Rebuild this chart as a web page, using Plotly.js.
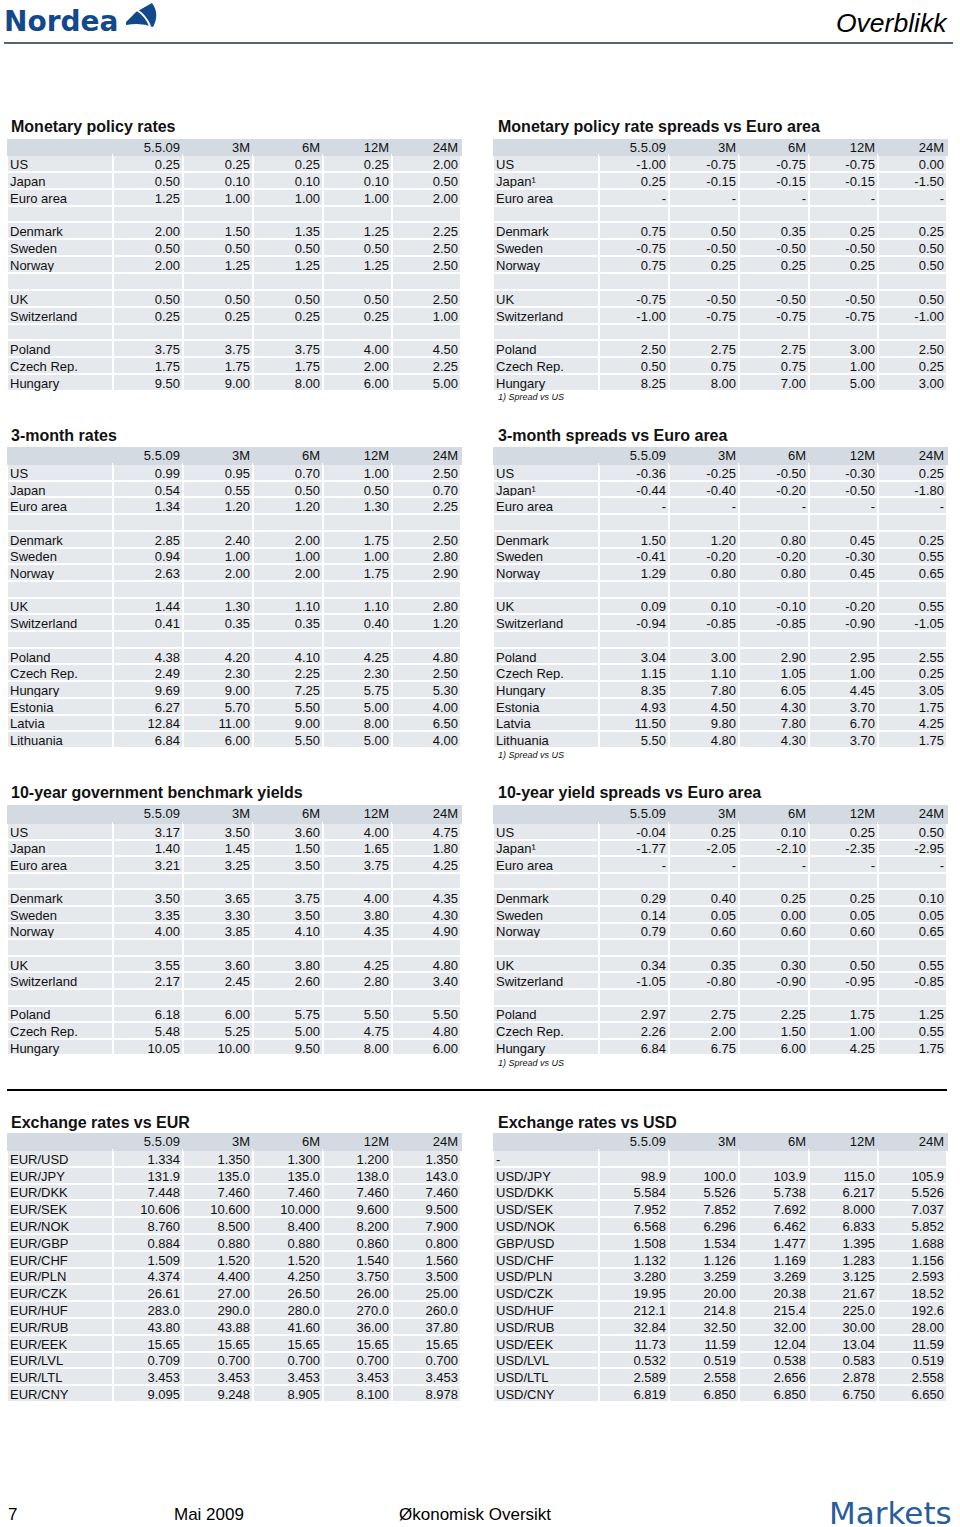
<!DOCTYPE html>
<html><head><meta charset="utf-8">
<script src="https://cdn.plot.ly/plotly-3.0.1.min.js"></script>
<style>
html,body{margin:0;padding:0;background:#fff}
/* Plotly's fixed 8px cell padding is larger than the reference's; nudge text */
.table .cell-text{transform:translate(5px,-3.9px)}
.table .cell-text-holder[transform^="translate(8,"] .cell-text{transform:translate(-5px,-3.9px)}
.table g#header .cell-text{transform:translate(5px,-4.7px)}
</style>
</head><body><div id="chart" style="width:960px;height:1527px"></div>
<script>
// ---------- DATA ----------
const columns = ["", "5.5.09", "3M", "6M", "12M", "24M"];

// Monetary policy rates
const mpRows = ["US","Japan","Euro area","","Denmark","Sweden","Norway","","UK","Switzerland","","Poland","Czech Rep.","Hungary"];
const mpNow  = [0.25,0.50,1.25,null,2.00,0.50,2.00,null,0.50,0.25,null,3.75,1.75,9.50];
const mp3M   = [0.25,0.10,1.00,null,1.50,0.50,1.25,null,0.50,0.25,null,3.75,1.75,9.00];
const mp6M   = [0.25,0.10,1.00,null,1.35,0.50,1.25,null,0.50,0.25,null,3.75,1.75,8.00];
const mp12M  = [0.25,0.10,1.00,null,1.25,0.50,1.25,null,0.50,0.25,null,4.00,2.00,6.00];
const mp24M  = [2.00,0.50,2.00,null,2.25,2.50,2.50,null,2.50,1.00,null,4.50,2.25,5.00];

// Monetary policy rate spreads vs Euro area
const mpsRows = ["US","Japan¹","Euro area","","Denmark","Sweden","Norway","","UK","Switzerland","","Poland","Czech Rep.","Hungary"];
const mpsNow  = [-1.00,0.25,"-",null,0.75,-0.75,0.75,null,-0.75,-1.00,null,2.50,0.50,8.25];
const mps3M   = [-0.75,-0.15,"-",null,0.50,-0.50,0.25,null,-0.50,-0.75,null,2.75,0.75,8.00];
const mps6M   = [-0.75,-0.15,"-",null,0.35,-0.50,0.25,null,-0.50,-0.75,null,2.75,0.75,7.00];
const mps12M  = [-0.75,-0.15,"-",null,0.25,-0.50,0.25,null,-0.50,-0.75,null,3.00,1.00,5.00];
const mps24M  = [0.00,-1.50,"-",null,0.25,0.50,0.50,null,0.50,-1.00,null,2.50,0.25,3.00];

// 3-month rates
const m3Rows = ["US","Japan","Euro area","","Denmark","Sweden","Norway","","UK","Switzerland","","Poland","Czech Rep.","Hungary","Estonia","Latvia","Lithuania"];
const m3Now  = [0.99,0.54,1.34,null,2.85,0.94,2.63,null,1.44,0.41,null,4.38,2.49,9.69,6.27,12.84,6.84];
const m33M   = [0.95,0.55,1.20,null,2.40,1.00,2.00,null,1.30,0.35,null,4.20,2.30,9.00,5.70,11.00,6.00];
const m36M   = [0.70,0.50,1.20,null,2.00,1.00,2.00,null,1.10,0.35,null,4.10,2.25,7.25,5.50,9.00,5.50];
const m312M  = [1.00,0.50,1.30,null,1.75,1.00,1.75,null,1.10,0.40,null,4.25,2.30,5.75,5.00,8.00,5.00];
const m324M  = [2.50,0.70,2.25,null,2.50,2.80,2.90,null,2.80,1.20,null,4.80,2.50,5.30,4.00,6.50,4.00];

// 3-month spreads vs Euro area
const m3sRows = ["US","Japan¹","Euro area","","Denmark","Sweden","Norway","","UK","Switzerland","","Poland","Czech Rep.","Hungary","Estonia","Latvia","Lithuania"];
const m3sNow  = [-0.36,-0.44,"-",null,1.50,-0.41,1.29,null,0.09,-0.94,null,3.04,1.15,8.35,4.93,11.50,5.50];
const m3s3M   = [-0.25,-0.40,"-",null,1.20,-0.20,0.80,null,0.10,-0.85,null,3.00,1.10,7.80,4.50,9.80,4.80];
const m3s6M   = [-0.50,-0.20,"-",null,0.80,-0.20,0.80,null,-0.10,-0.85,null,2.90,1.05,6.05,4.30,7.80,4.30];
const m3s12M  = [-0.30,-0.50,"-",null,0.45,-0.30,0.45,null,-0.20,-0.90,null,2.95,1.00,4.45,3.70,6.70,3.70];
const m3s24M  = [0.25,-1.80,"-",null,0.25,0.55,0.65,null,0.55,-1.05,null,2.55,0.25,3.05,1.75,4.25,1.75];

// 10-year government benchmark yields
const y10Rows = ["US","Japan","Euro area","","Denmark","Sweden","Norway","","UK","Switzerland","","Poland","Czech Rep.","Hungary"];
const y10Now  = [3.17,1.40,3.21,null,3.50,3.35,4.00,null,3.55,2.17,null,6.18,5.48,10.05];
const y103M   = [3.50,1.45,3.25,null,3.65,3.30,3.85,null,3.60,2.45,null,6.00,5.25,10.00];
const y106M   = [3.60,1.50,3.50,null,3.75,3.50,4.10,null,3.80,2.60,null,5.75,5.00,9.50];
const y1012M  = [4.00,1.65,3.75,null,4.00,3.80,4.35,null,4.25,2.80,null,5.50,4.75,8.00];
const y1024M  = [4.75,1.80,4.25,null,4.35,4.30,4.90,null,4.80,3.40,null,5.50,4.80,6.00];

// 10-year yield spreads vs Euro area
const y10sRows = ["US","Japan¹","Euro area","","Denmark","Sweden","Norway","","UK","Switzerland","","Poland","Czech Rep.","Hungary"];
const y10sNow  = [-0.04,-1.77,"-",null,0.29,0.14,0.79,null,0.34,-1.05,null,2.97,2.26,6.84];
const y10s3M   = [0.25,-2.05,"-",null,0.40,0.05,0.60,null,0.35,-0.80,null,2.75,2.00,6.75];
const y10s6M   = [0.10,-2.10,"-",null,0.25,0.00,0.60,null,0.30,-0.90,null,2.25,1.50,6.00];
const y10s12M  = [0.25,-2.35,"-",null,0.25,0.05,0.60,null,0.50,-0.95,null,1.75,1.00,4.25];
const y10s24M  = [0.50,-2.95,"-",null,0.10,0.05,0.65,null,0.55,-0.85,null,1.25,0.55,1.75];

// Exchange rates vs EUR
const eurRows = ["EUR/USD","EUR/JPY","EUR/DKK","EUR/SEK","EUR/NOK","EUR/GBP","EUR/CHF","EUR/PLN","EUR/CZK","EUR/HUF","EUR/RUB","EUR/EEK","EUR/LVL","EUR/LTL","EUR/CNY"];
const eurDec  = [3,1,3,3,3,3,3,3,2,1,2,2,3,3,3];
const eurNow  = [1.334,131.9,7.448,10.606,8.760,0.884,1.509,4.374,26.61,283.0,43.80,15.65,0.709,3.453,9.095];
const eur3M   = [1.350,135.0,7.460,10.600,8.500,0.880,1.520,4.400,27.00,290.0,43.88,15.65,0.700,3.453,9.248];
const eur6M   = [1.300,135.0,7.460,10.000,8.400,0.880,1.520,4.250,26.50,280.0,41.60,15.65,0.700,3.453,8.905];
const eur12M  = [1.200,138.0,7.460,9.600,8.200,0.860,1.540,3.750,26.00,270.0,36.00,15.65,0.700,3.453,8.100];
const eur24M  = [1.350,143.0,7.460,9.500,7.900,0.800,1.560,3.500,25.00,260.0,37.80,15.65,0.700,3.453,8.978];

// Exchange rates vs USD
const usdRows = ["-","USD/JPY","USD/DKK","USD/SEK","USD/NOK","GBP/USD","USD/CHF","USD/PLN","USD/CZK","USD/HUF","USD/RUB","USD/EEK","USD/LVL","USD/LTL","USD/CNY"];
const usdDec  = [0,1,3,3,3,3,3,3,2,1,2,2,3,3,3];
const usdNow  = [null,98.9,5.584,7.952,6.568,1.508,1.132,3.280,19.95,212.1,32.84,11.73,0.532,2.589,6.819];
const usd3M   = [null,100.0,5.526,7.852,6.296,1.534,1.126,3.259,20.00,214.8,32.50,11.59,0.519,2.558,6.850];
const usd6M   = [null,103.9,5.738,7.692,6.462,1.477,1.169,3.269,20.38,215.4,32.00,12.04,0.538,2.656,6.850];
const usd12M  = [null,115.0,6.217,8.000,6.833,1.395,1.283,3.125,21.67,225.0,30.00,13.04,0.583,2.878,6.750];
const usd24M  = [null,105.9,5.526,7.037,5.852,1.688,1.156,2.593,18.52,192.6,28.00,11.59,0.519,2.558,6.650];

// ---------- LAYOUT HELPERS ----------
const W = 960, H = 1527;
const FONT = "Liberation Sans, Arial, Helvetica, sans-serif";
const HEAD_FILL = "rgb(211,218,226)";
const CELL_FILL = "rgb(229,232,236)";
const px = x => x / W;
const py = y => 1 - y / H;

function fmt(v, d) {
  if (v === null || v === undefined) return "";
  if (typeof v === "string") return v;
  return v.toFixed(d);
}

function makeTable(rows, cols, dec, x0, x1, top, headH, cellH) {
  const n = rows.length;
  const bottom = top + headH + n * cellH + 2;
  const decs = Array.isArray(dec) ? dec : rows.map(() => dec);
  const labelCol = rows.map(r => r.replace(/ /g, "\u00a0"));
  const valueCols = cols.map(c => c.map((v, i) => fmt(v, decs[i])));
  const align = ["left", "right", "right", "right", "right", "right"];
  return {
    type: "table",
    domain: { x: [px(x0), px(x1)], y: [py(bottom), py(top)] },
    columnwidth: [106, 70, 70, 70, 69, 69],
    header: {
      values: columns,
      align: align,
      height: headH,
      fill: { color: HEAD_FILL },
      line: { color: HEAD_FILL, width: 1 },
      font: { family: FONT, size: 13, color: "#111" }
    },
    cells: {
      values: [labelCol].concat(valueCols),
      align: align,
      height: cellH,
      fill: { color: CELL_FILL },
      line: { color: "#ffffff", width: 2 },
      font: { family: FONT, size: 13, color: "#111" }
    }
  };
}

const LX0 = 7, LX1 = 461, RX0 = 493, RX1 = 947;

const data = [
  makeTable(mpRows,  [mpNow, mp3M, mp6M, mp12M, mp24M], 2, LX0, LX1, 139, 16, 16.86),
  makeTable(mpsRows, [mpsNow, mps3M, mps6M, mps12M, mps24M], 2, RX0, RX1, 139, 16, 16.86),
  makeTable(m3Rows,  [m3Now, m33M, m36M, m312M, m324M], 2, LX0, LX1, 447, 17, 16.7),
  makeTable(m3sRows, [m3sNow, m3s3M, m3s6M, m3s12M, m3s24M], 2, RX0, RX1, 447, 17, 16.7),
  makeTable(y10Rows, [y10Now, y103M, y106M, y1012M, y1024M], 2, LX0, LX1, 805, 18, 16.6),
  makeTable(y10sRows,[y10sNow, y10s3M, y10s6M, y10s12M, y10s24M], 2, RX0, RX1, 805, 18, 16.6),
  makeTable(eurRows, [eurNow, eur3M, eur6M, eur12M, eur24M], eurDec, LX0, LX1, 1133, 17, 16.8),
  makeTable(usdRows, [usdNow, usd3M, usd6M, usd12M, usd24M], usdDec, RX0, RX1, 1133, 17, 16.8)
];

function ann(text, x, y, opts) {
  return Object.assign({
    text: text, x: px(x), y: py(y), xref: "paper", yref: "paper",
    xanchor: "left", yanchor: "middle", showarrow: false,
    font: { family: FONT, size: 12, color: "#111" }
  }, opts || {});
}
const titleFont = { family: FONT, size: 16, color: "#111", weight: "bold" };
const noteFont = { family: FONT, size: 9, color: "#111", style: "italic" };

const annotations = [
  ann("Monetary policy rates", 9, 127, { font: titleFont }),
  ann("Monetary policy rate spreads vs Euro area", 496, 127, { font: titleFont }),
  ann("1) Spread vs US", 496, 397, { font: noteFont }),
  ann("3-month rates", 9, 435, { font: titleFont }),
  ann("3-month spreads vs Euro area", 496, 435, { font: titleFont }),
  ann("1) Spread vs US", 496, 755, { font: noteFont }),
  ann("10-year government benchmark yields", 9, 792, { font: titleFont }),
  ann("10-year yield spreads vs Euro area", 496, 792, { font: titleFont }),
  ann("1) Spread vs US", 496, 1063, { font: noteFont }),
  ann("Exchange rates vs EUR", 9, 1122, { font: titleFont }),
  ann("Exchange rates vs USD", 496, 1122, { font: titleFont }),
  // page header
  ann("Nordea", 2, 21, { font: { family: "DejaVu Sans", size: 28, color: "rgb(18,72,140)", weight: "bold" } }),
  ann("Overblikk", 950, 23, { xanchor: "right", font: { family: FONT, size: 26.5, color: "#000", style: "italic" } }),
  // page footer
  ann("7", 6, 1514, { font: { family: FONT, size: 17, color: "#000" } }),
  ann("Mai 2009", 172, 1514, { font: { family: FONT, size: 17, color: "#000" } }),
  ann("Økonomisk Oversikt", 397, 1514, { font: { family: FONT, size: 17, color: "#000" } }),
  ann("Markets", 954, 1513, { xanchor: "right", font: { family: "DejaVu Sans", size: 31, color: "rgb(40,92,160)" } })
];

function P(x, y) { return px(x).toFixed(5) + "," + py(y).toFixed(5); }
const shapes = [
  { type: "line", xref: "paper", yref: "paper", x0: px(4), x1: px(953), y0: py(43), y1: py(43), line: { color: "rgb(28,48,80)", width: 1.5 } },
  { type: "line", xref: "paper", yref: "paper", x0: px(7), x1: px(947), y0: py(1090), y1: py(1090), line: { color: "#000", width: 2 } },
  // Nordea sail mark
  { type: "path", xref: "paper", yref: "paper", fillcolor: "rgb(18,72,140)", line: { width: 0 },
    path: "M" + P(126, 22) + " L" + P(136, 12) + " L" + P(152, 3) + " Q" + P(160, 14) + " " + P(153, 27) + " Q" + P(141, 22) + " " + P(126, 25) + " Z" },
  { type: "path", xref: "paper", yref: "paper", fillcolor: "rgba(0,0,0,0)", line: { color: "#fff", width: 2 },
    path: "M" + P(137, 10) + " Q" + P(146, 16) + " " + P(150, 26) }
];

const layout = {
  width: W, height: H,
  margin: { l: 0, r: 0, t: 0, b: 0 },
  paper_bgcolor: "#fff",
  showlegend: false,
  annotations: annotations,
  shapes: shapes
};

Plotly.newPlot("chart", data, layout, { displayModeBar: false, staticPlot: true });
</script>
</body></html>
